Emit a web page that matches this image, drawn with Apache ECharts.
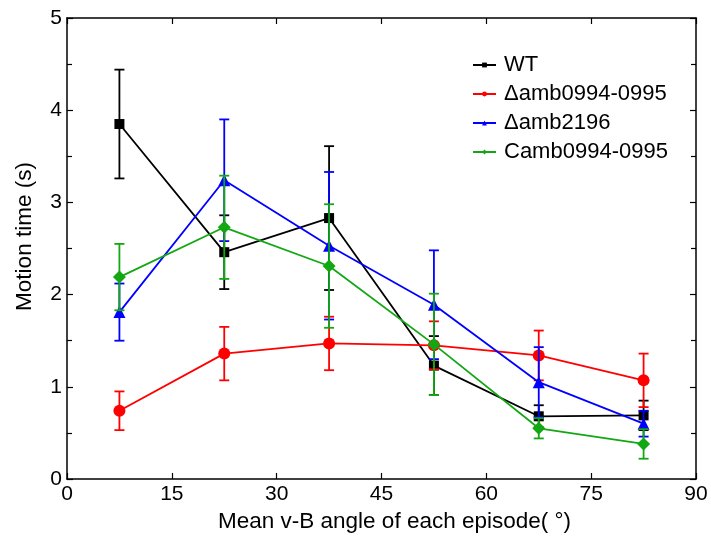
<!DOCTYPE html>
<html>
<head>
<meta charset="utf-8">
<script src="https://cdn.jsdelivr.net/npm/echarts@6/dist/echarts.min.js"></script>
<style>
  html, body { margin: 0; padding: 0; background: #fff; }
  #chart { width: 711px; height: 538px; }
</style>
</head>
<body>
<div id="chart"></div>
<script>
// Mean v-B angle of each episode (degrees)
const angles = [7.5, 22.5, 37.5, 52.5, 67.5, 82.5];

// Mean motion time (s) and standard error for each strain
const wtMean = [3.85, 2.46, 2.83, 1.23, 0.68, 0.69];
const wtErr  = [0.59, 0.40, 0.78, 0.32, 0.12, 0.16];

const delta0994Mean = [0.74, 1.36, 1.47, 1.45, 1.34, 1.07];
const delta0994Err  = [0.21, 0.29, 0.29, 0.26, 0.27, 0.29];

const delta2196Mean = [1.81, 3.24, 2.53, 1.89, 1.05, 0.60];
const delta2196Err  = [0.31, 0.66, 0.80, 0.59, 0.38, 0.14];

const comp0994Mean = [2.19, 2.73, 2.31, 1.46, 0.55, 0.38];
const comp0994Err  = [0.36, 0.56, 0.67, 0.55, 0.11, 0.16];

const seriesNames = ['WT', '\u0394amb0994-0995', '\u0394amb2196', 'Camb0994-0995'];
const seriesColors = ['#000000', '#ff0000', '#0000ff', '#13a813'];
const seriesSymbols = ['rect', 'circle', 'triangle', 'diamond'];
const seriesSymbolSizes = [10, 12, 12, 13];
const means = [wtMean, delta0994Mean, delta2196Mean, comp0994Mean];
const errs = [wtErr, delta0994Err, delta2196Err, comp0994Err];

const xTicks = [0, 15, 30, 45, 60, 75, 90];
const yTicks = [0, 1, 2, 3, 4, 5];

const font = 'Liberation Sans, Arial, sans-serif';

function errorBarSeries(idx) {
  const data = angles.map((a, i) => [a, means[idx][i] - errs[idx][i], means[idx][i] + errs[idx][i]]);
  return {
    type: 'custom',
    name: seriesNames[idx] + ' error',
    z: 2 + idx,
    silent: true,
    data: data,
    encode: { x: 0, y: [1, 2] },
    renderItem: function (params, api) {
      const x = api.value(0);
      const lo = api.coord([x, api.value(1)]);
      const hi = api.coord([x, api.value(2)]);
      const half = 5;
      const style = { stroke: seriesColors[idx], lineWidth: 1.8, fill: null };
      return {
        type: 'group',
        children: [
          { type: 'line', shape: { x1: lo[0], y1: lo[1], x2: hi[0], y2: hi[1] }, style: style },
          { type: 'line', shape: { x1: hi[0] - half, y1: hi[1], x2: hi[0] + half, y2: hi[1] }, style: style },
          { type: 'line', shape: { x1: lo[0] - half, y1: lo[1], x2: lo[0] + half, y2: lo[1] }, style: style }
        ]
      };
    }
  };
}

function lineSeries(idx) {
  return {
    type: 'line',
    name: seriesNames[idx],
    z: 2 + idx,
    data: angles.map((a, i) => [a, means[idx][i]]),
    symbol: seriesSymbols[idx],
    symbolSize: seriesSymbolSizes[idx],
    showAllSymbol: true,
    lineStyle: { color: seriesColors[idx], width: 1.8 },
    itemStyle: { color: seriesColors[idx] },
    emphasis: { disabled: true }
  };
}

const series = [];
for (let i = 0; i < 4; i++) {
  series.push(lineSeries(i));
  series.push(errorBarSeries(i));
}

const axisLineStyle = { color: '#000', width: 1.5 };
const tickStyle = { color: '#000', width: 1.2 };

const option = {
  animation: false,
  backgroundColor: '#fff',
  grid: { left: 67, right: 15, top: 18, bottom: 56, containLabel: false },
  legend: {
    data: seriesNames,
    orient: 'vertical',
    left: 467,
    top: 49,
    itemGap: 7,
    itemWidth: 23,
    itemHeight: 6,
    textStyle: { fontFamily: font, fontSize: 22, color: '#000', padding: [0, 0, 0, 3] },
    selectedMode: false
  },
  xAxis: [{
    type: 'value',
    min: 0, max: 90, interval: 15,
    name: 'Mean v-B angle of each episode( \u00b0)',
    nameLocation: 'middle',
    nameGap: 31,
    nameTextStyle: { fontFamily: font, fontSize: 22.5, color: '#000', padding: [0, 0, 0, 26] },
    axisLine: { show: true, onZero: false, lineStyle: axisLineStyle },
    axisTick: { show: true, inside: true, length: 6, lineStyle: tickStyle },
    axisLabel: { fontFamily: font, fontSize: 21, color: '#000', margin: 5,
      formatter: v => xTicks.includes(v) ? String(v) : '' },
    splitLine: { show: false }
  }, {
    type: 'value',
    position: 'top',
    min: 0, max: 90, interval: 15,
    axisLine: { show: true, onZero: false, lineStyle: axisLineStyle },
    axisTick: { show: true, inside: true, length: 6, lineStyle: tickStyle },
    axisLabel: { show: false },
    splitLine: { show: false }
  }],
  yAxis: [{
    type: 'value',
    min: 0, max: 5, interval: 1,
    name: 'Motion time (s)',
    nameLocation: 'middle',
    nameGap: 31,
    nameTextStyle: { fontFamily: font, fontSize: 22.5, color: '#000', padding: [0, 0, 0, 24] },
    axisLine: { show: true, onZero: false, lineStyle: axisLineStyle },
    axisTick: { show: true, inside: true, length: 6, lineStyle: tickStyle },
    minorTick: { show: true, splitNumber: 2, length: 5, lineStyle: tickStyle },
    axisLabel: { fontFamily: font, fontSize: 21, color: '#000', margin: 5,
      formatter: v => yTicks.includes(v) ? String(v) : '' },
    splitLine: { show: false },
    minorSplitLine: { show: false }
  }, {
    type: 'value',
    position: 'right',
    min: 0, max: 5, interval: 1,
    axisLine: { show: true, onZero: false, lineStyle: axisLineStyle },
    axisTick: { show: true, inside: true, length: 6, lineStyle: tickStyle },
    minorTick: { show: true, splitNumber: 2, length: 5, lineStyle: tickStyle },
    axisLabel: { show: false },
    splitLine: { show: false },
    minorSplitLine: { show: false }
  }],
  series: series
};

const chart = echarts.init(document.getElementById('chart'), null, { renderer: 'canvas' });
chart.setOption(option);
</script>
</body>
</html>
